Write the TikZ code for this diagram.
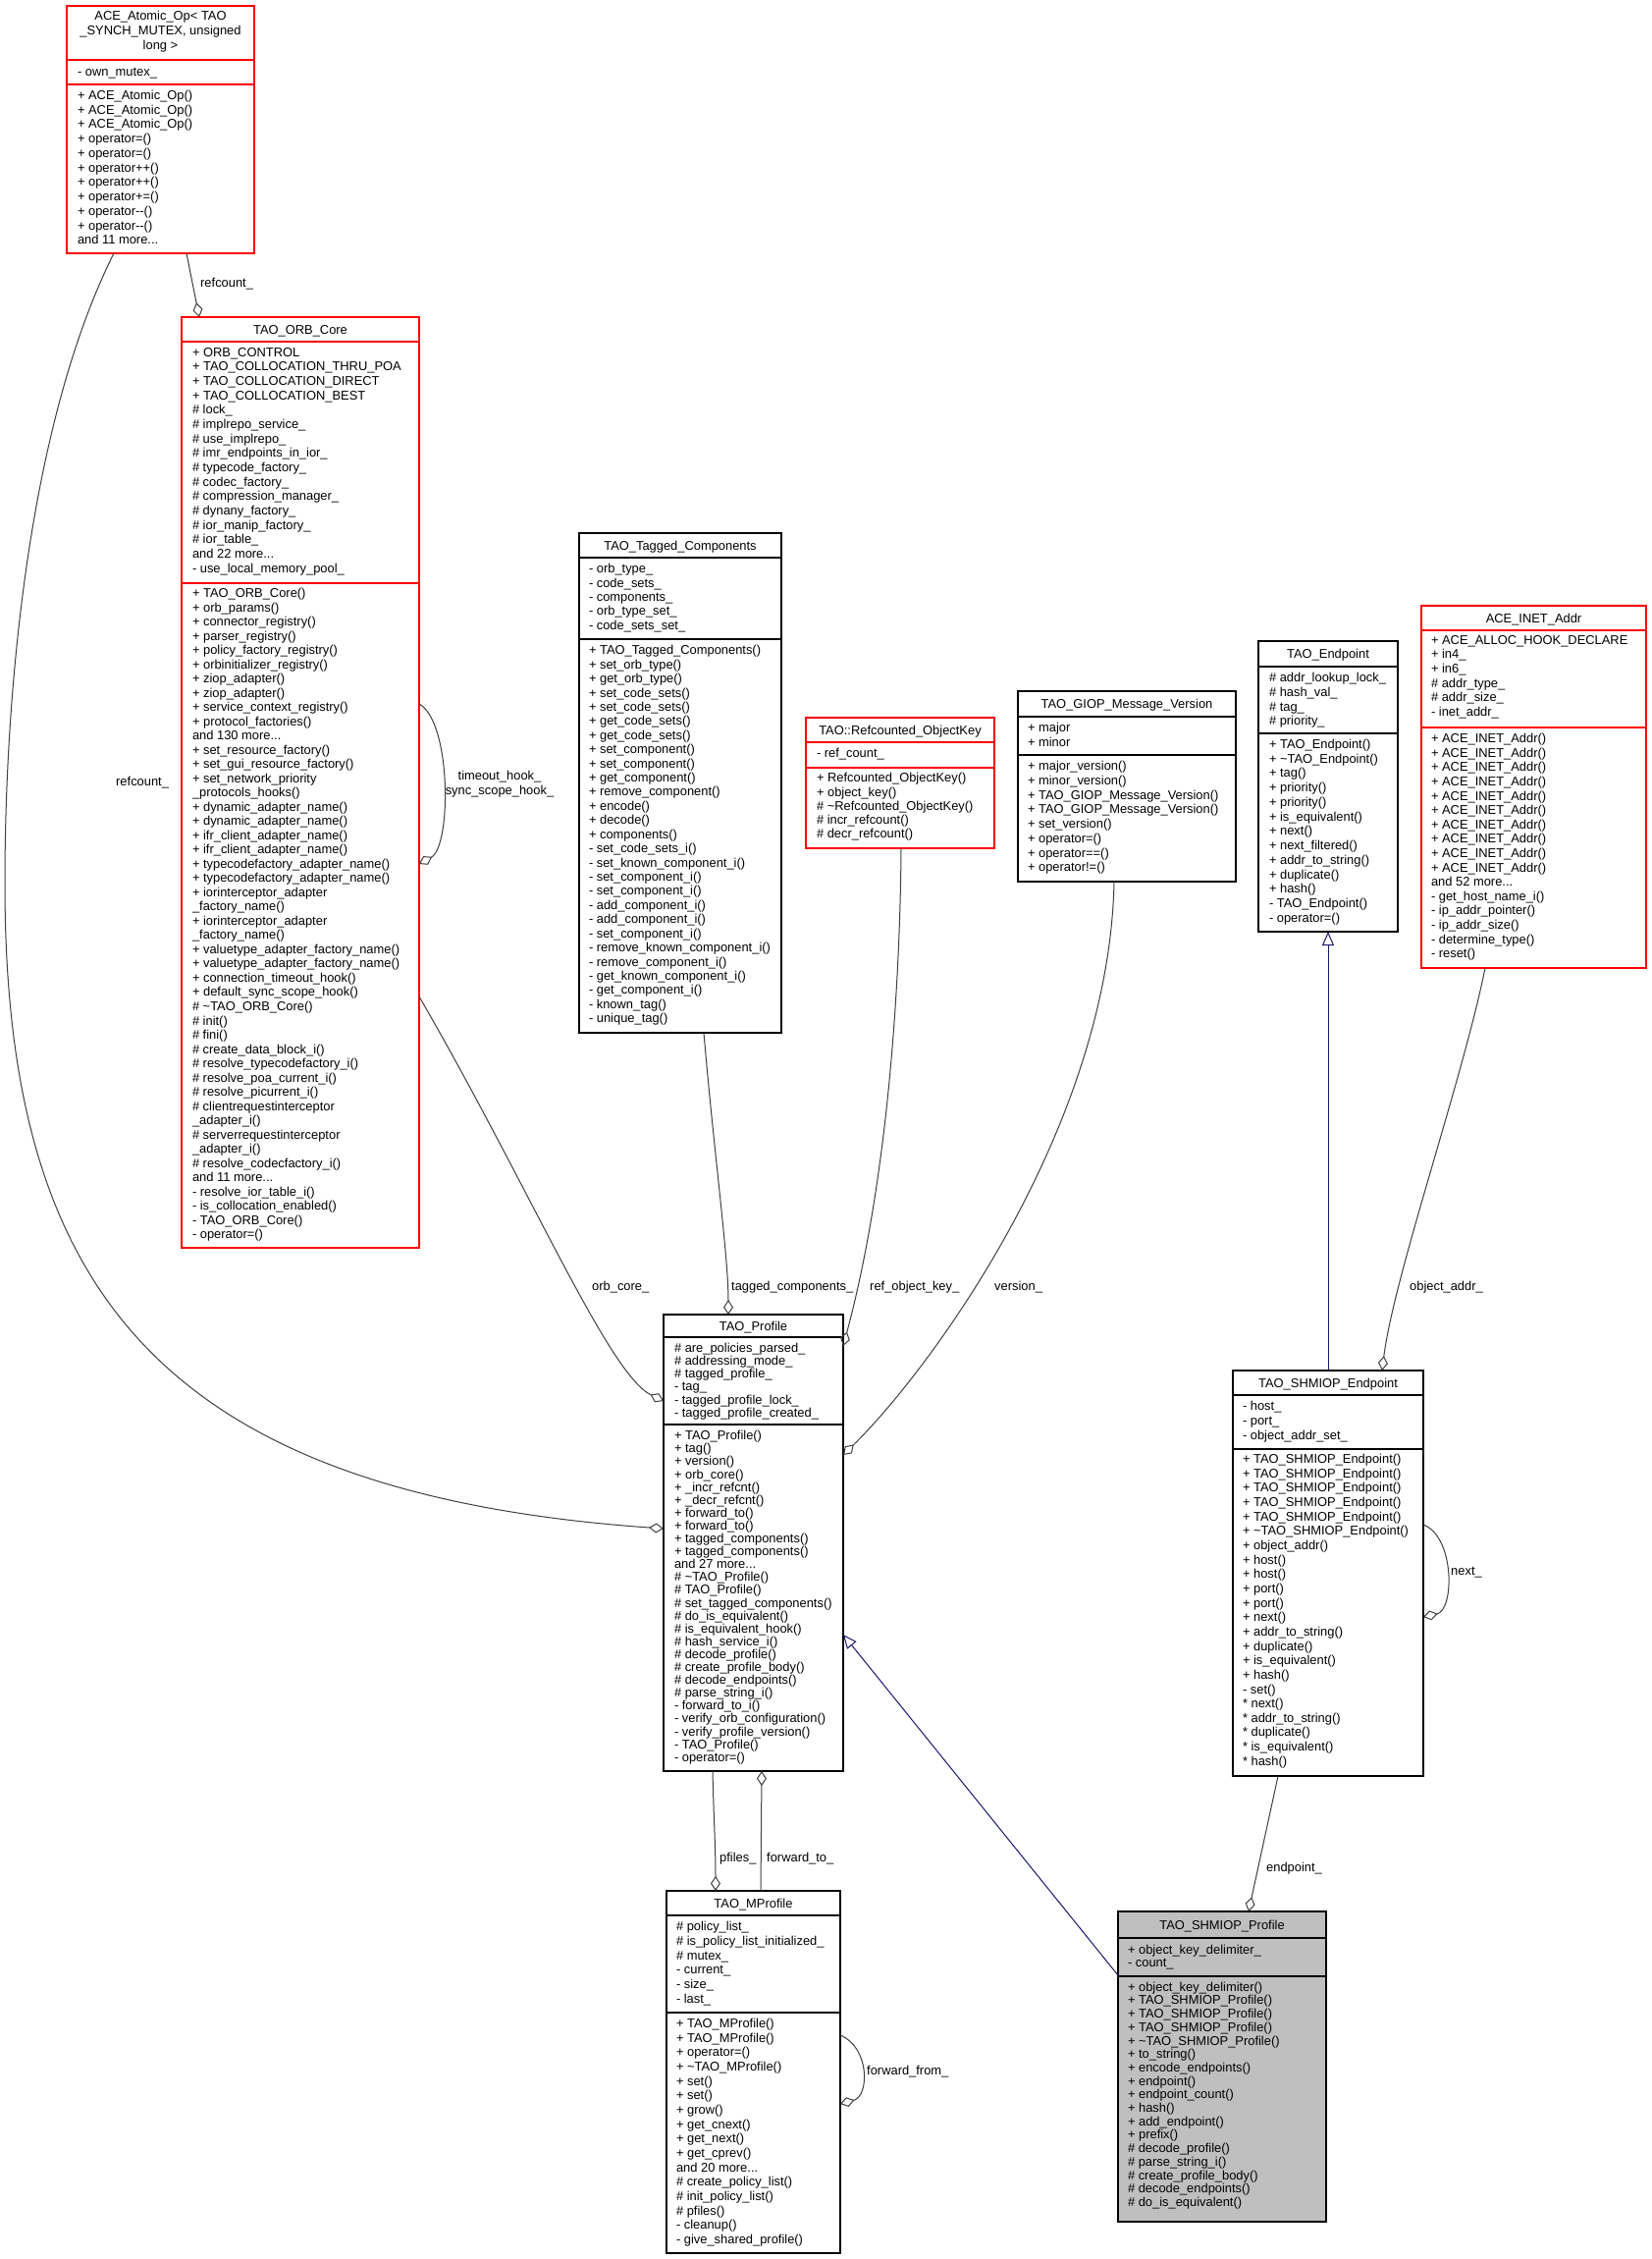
\documentclass[tikz,border=0pt]{standalone}
\usepackage{fontspec}
\setmainfont{Liberation Sans}
\usetikzlibrary{arrows.meta,calc}
\definecolor{edgegray}{HTML}{404040}
\definecolor{inhblue}{HTML}{191970}
\definecolor{boxred}{HTML}{FF0000}
\definecolor{ggray}{HTML}{BFBFBF}
\newcommand\classbox[9]{%
  \node[umlbox,draw=#2,fill=#3,minimum width={#5-#4},minimum height={#9-#6}] (#1) at ({(#4+#5)/2},{(#6+#9)/2}) {};
  \draw[draw=#2,seprule] (#4,#7) -- (#5,#7) (#4,#8) -- (#5,#8);}
\newcommand\members[5]{\node[memb,font={\fontsize{12.9}{#4}\selectfont}] (#1) at (#2,{#3+4.5-0.7*#4}) {#5};}
\newcommand\header[4]{\node[hdr] (#1) at (#2,{#3+4.5}) {#4};}
\begin{document}
\begin{tikzpicture}[x=1pt,y=-1pt,
  umlbox/.style={rectangle,inner sep=0pt,outer sep=0pt,line width=1.5pt},
  seprule/.style={line width=1.5pt},
  memb/.style={anchor=north west,inner sep=0pt,outer sep=0pt,align=left,execute at begin node=\strut},
  hdr/.style={anchor=base,inner sep=0pt,font=\fontsize{12.9}{14.6}\selectfont},
  lbl/.style={anchor=west,inner sep=0pt,font=\fontsize{12.9}{15}\selectfont},
  agg/.style={draw=edgegray,line width=1pt,-{Diamond[open,length=15pt,width=10pt,line width=1pt]}},
  inh/.style={draw=inhblue,line width=1pt,-{Triangle[open,length=14pt,width=12pt,line width=1pt]}}]
\useasboundingbox[fill=white] (0,0) rectangle (1682,2301);

% ---------------- ACE_Atomic_Op
\classbox{atomic}{boxred}{white}{68}{259}{6}{61}{86}{258}
\node[anchor=north,inner sep=0pt,align=center,font={\fontsize{12.9}{15}\selectfont},execute at begin node=\strut] (atomic-h) at (163.5,{17+4.5-10.5}) {ACE\_Atomic\_Op< TAO\\\_SYNCH\_MUTEX, unsigned\\long >};
\members{atomic-a}{79}{73}{14.7}{- own\_mutex\_}
\members{atomic-m}{79}{98}{14.73}{+ ACE\_Atomic\_Op()\\+ ACE\_Atomic\_Op()\\+ ACE\_Atomic\_Op()\\+ operator=()\\+ operator=()\\+ operator++()\\+ operator++()\\+ operator+=()\\+ operator-{}-()\\+ operator-{}-()\\and 11 more...}

% ---------------- TAO_ORB_Core
\classbox{orbcore}{boxred}{white}{185}{427}{323}{348}{594}{1271}
\header{orbcore-h}{306}{335.5}{TAO\_ORB\_Core}
\members{orbcore-a}{196}{360}{14.67}{+ ORB\_CONTROL\\+ TAO\_COLLOCATION\_THRU\_POA\\+ TAO\_COLLOCATION\_DIRECT\\+ TAO\_COLLOCATION\_BEST\\\# lock\_\\\# implrepo\_service\_\\\# use\_implrepo\_\\\# imr\_endpoints\_in\_ior\_\\\# typecode\_factory\_\\\# codec\_factory\_\\\# compression\_manager\_\\\# dynany\_factory\_\\\# ior\_manip\_factory\_\\\# ior\_table\_\\and 22 more...\\- use\_local\_memory\_pool\_}
\members{orbcore-m}{196}{605}{14.51}{+ TAO\_ORB\_Core()\\+ orb\_params()\\+ connector\_registry()\\+ parser\_registry()\\+ policy\_factory\_registry()\\+ orbinitializer\_registry()\\+ ziop\_adapter()\\+ ziop\_adapter()\\+ service\_context\_registry()\\+ protocol\_factories()\\and 130 more...\\+ set\_resource\_factory()\\+ set\_gui\_resource\_factory()\\+ set\_network\_priority\\\_protocols\_hooks()\\+ dynamic\_adapter\_name()\\+ dynamic\_adapter\_name()\\+ ifr\_client\_adapter\_name()\\+ ifr\_client\_adapter\_name()\\+ typecodefactory\_adapter\_name()\\+ typecodefactory\_adapter\_name()\\+ iorinterceptor\_adapter\\\_factory\_name()\\+ iorinterceptor\_adapter\\\_factory\_name()\\+ valuetype\_adapter\_factory\_name()\\+ valuetype\_adapter\_factory\_name()\\+ connection\_timeout\_hook()\\+ default\_sync\_scope\_hook()\\\# \textasciitilde TAO\_ORB\_Core()\\\# init()\\\# fini()\\\# create\_data\_block\_i()\\\# resolve\_typecodefactory\_i()\\\# resolve\_poa\_current\_i()\\\# resolve\_picurrent\_i()\\\# clientrequestinterceptor\\\_adapter\_i()\\\# serverrequestinterceptor\\\_adapter\_i()\\\# resolve\_codecfactory\_i()\\and 11 more...\\- resolve\_ior\_table\_i()\\- is\_collocation\_enabled()\\- TAO\_ORB\_Core()\\- operator=()}

% ---------------- TAO_Tagged_Components
\classbox{tagged}{black}{white}{590}{796}{543}{568}{651}{1052}
\header{tagged-h}{693}{555.5}{TAO\_Tagged\_Components}
\members{tagged-a}{600}{580}{14.33}{- orb\_type\_\\- code\_sets\_\\- components\_\\- orb\_type\_set\_\\- code\_sets\_set\_}
\members{tagged-m}{600}{663}{14.42}{+ TAO\_Tagged\_Components()\\+ set\_orb\_type()\\+ get\_orb\_type()\\+ set\_code\_sets()\\+ set\_code\_sets()\\+ get\_code\_sets()\\+ get\_code\_sets()\\+ set\_component()\\+ set\_component()\\+ get\_component()\\+ remove\_component()\\+ encode()\\+ decode()\\+ components()\\- set\_code\_sets\_i()\\- set\_known\_component\_i()\\- set\_component\_i()\\- set\_component\_i()\\- add\_component\_i()\\- add\_component\_i()\\- set\_component\_i()\\- remove\_known\_component\_i()\\- remove\_component\_i()\\- get\_known\_component\_i()\\- get\_component\_i()\\- known\_tag()\\- unique\_tag()}

% ---------------- TAO::Refcounted_ObjectKey
\classbox{refkey}{boxred}{white}{821}{1013}{731}{756}{782}{864}
\header{refkey-h}{917}{743.5}{TAO::Refcounted\_ObjectKey}
\members{refkey-a}{832}{767}{14.2}{- ref\_count\_}
\members{refkey-m}{832}{793}{14.2}{+ Refcounted\_ObjectKey()\\+ object\_key()\\\# \textasciitilde Refcounted\_ObjectKey()\\\# incr\_refcount()\\\# decr\_refcount()}

% ---------------- TAO_GIOP_Message_Version
\classbox{giop}{black}{white}{1037}{1259}{704}{730}{769}{898}
\header{giop-h}{1148}{717}{TAO\_GIOP\_Message\_Version}
\members{giop-a}{1047}{742}{15}{+ major\\+ minor}
\members{giop-m}{1047}{781}{14.76}{+ major\_version()\\+ minor\_version()\\+ TAO\_GIOP\_Message\_Version()\\+ TAO\_GIOP\_Message\_Version()\\+ set\_version()\\+ operator=()\\+ operator==()\\+ operator!=()}

% ---------------- TAO_Endpoint
\classbox{endpoint}{black}{white}{1282}{1424}{653}{679}{747}{949}
\header{endpoint-h}{1353}{666}{TAO\_Endpoint}
\members{endpoint-a}{1293}{691}{14.8}{\# addr\_lookup\_lock\_\\\# hash\_val\_\\\# tag\_\\\# priority\_}
\members{endpoint-m}{1293}{759}{14.72}{+ TAO\_Endpoint()\\+ \textasciitilde TAO\_Endpoint()\\+ tag()\\+ priority()\\+ priority()\\+ is\_equivalent()\\+ next()\\+ next\_filtered()\\+ addr\_to\_string()\\+ duplicate()\\+ hash()\\- TAO\_Endpoint()\\- operator=()}

% ---------------- ACE_INET_Addr
\classbox{inet}{boxred}{white}{1448}{1677}{617}{642}{741}{986}
\header{inet-h}{1562.5}{629.5}{ACE\_INET\_Addr}
\members{inet-a}{1458}{653}{14.67}{+ ACE\_ALLOC\_HOOK\_DECLARE\\+ in4\_\\+ in6\_\\\# addr\_type\_\\\# addr\_size\_\\- inet\_addr\_}
\members{inet-m}{1458}{753}{14.6}{+ ACE\_INET\_Addr()\\+ ACE\_INET\_Addr()\\+ ACE\_INET\_Addr()\\+ ACE\_INET\_Addr()\\+ ACE\_INET\_Addr()\\+ ACE\_INET\_Addr()\\+ ACE\_INET\_Addr()\\+ ACE\_INET\_Addr()\\+ ACE\_INET\_Addr()\\+ ACE\_INET\_Addr()\\and 52 more...\\- get\_host\_name\_i()\\- ip\_addr\_pointer()\\- ip\_addr\_size()\\- determine\_type()\\- reset()}

% ---------------- TAO_Profile
\classbox{profile}{black}{white}{676}{859}{1339}{1362}{1451}{1804}
\header{profile-h}{767.5}{1350.5}{TAO\_Profile}
\members{profile-a}{687}{1373}{13.1}{\# are\_policies\_parsed\_\\\# addressing\_mode\_\\\# tagged\_profile\_\\- tag\_\\- tagged\_profile\_lock\_\\- tagged\_profile\_created\_}
\members{profile-m}{687}{1462}{13.1}{+ TAO\_Profile()\\+ tag()\\+ version()\\+ orb\_core()\\+ \_incr\_refcnt()\\+ \_decr\_refcnt()\\+ forward\_to()\\+ forward\_to()\\+ tagged\_components()\\+ tagged\_components()\\and 27 more...\\\# \textasciitilde TAO\_Profile()\\\# TAO\_Profile()\\\# set\_tagged\_components()\\\# do\_is\_equivalent()\\\# is\_equivalent\_hook()\\\# hash\_service\_i()\\\# decode\_profile()\\\# create\_profile\_body()\\\# decode\_endpoints()\\\# parse\_string\_i()\\- forward\_to\_i()\\- verify\_orb\_configuration()\\- verify\_profile\_version()\\- TAO\_Profile()\\- operator=()}

% ---------------- TAO_SHMIOP_Endpoint
\classbox{shmep}{black}{white}{1256}{1450}{1396}{1421}{1476}{1809}
\header{shmep-h}{1353}{1408.5}{TAO\_SHMIOP\_Endpoint}
\members{shmep-a}{1266}{1433}{14.8}{- host\_\\- port\_\\- object\_addr\_set\_}
\members{shmep-m}{1266}{1487}{14.65}{+ TAO\_SHMIOP\_Endpoint()\\+ TAO\_SHMIOP\_Endpoint()\\+ TAO\_SHMIOP\_Endpoint()\\+ TAO\_SHMIOP\_Endpoint()\\+ TAO\_SHMIOP\_Endpoint()\\+ \textasciitilde TAO\_SHMIOP\_Endpoint()\\+ object\_addr()\\+ host()\\+ host()\\+ port()\\+ port()\\+ next()\\+ addr\_to\_string()\\+ duplicate()\\+ is\_equivalent()\\+ hash()\\- set()\\* next()\\* addr\_to\_string()\\* duplicate()\\* is\_equivalent()\\* hash()}

% ---------------- TAO_MProfile
\classbox{mprof}{black}{white}{679}{856}{1926}{1951}{2050}{2295}
\header{mprof-h}{767.5}{1938.5}{TAO\_MProfile}
\members{mprof-a}{689}{1963}{14.8}{\# policy\_list\_\\\# is\_policy\_list\_initialized\_\\\# mutex\_\\- current\_\\- size\_\\- last\_}
\members{mprof-m}{689}{2062}{14.67}{+ TAO\_MProfile()\\+ TAO\_MProfile()\\+ operator=()\\+ \textasciitilde TAO\_MProfile()\\+ set()\\+ set()\\+ grow()\\+ get\_cnext()\\+ get\_next()\\+ get\_cprev()\\and 20 more...\\\# create\_policy\_list()\\\# init\_policy\_list()\\\# pfiles()\\- cleanup()\\- give\_shared\_profile()}

% ---------------- TAO_SHMIOP_Profile
\classbox{shprof}{black}{ggray}{1139}{1351}{1947}{1974}{2013}{2263}
\header{shprof-h}{1245}{1960.5}{TAO\_SHMIOP\_Profile}
\members{shprof-a}{1149}{1986}{13.3}{+ object\_key\_delimiter\_\\- count\_}
\members{shprof-m}{1149}{2024}{13.7}{+ object\_key\_delimiter()\\+ TAO\_SHMIOP\_Profile()\\+ TAO\_SHMIOP\_Profile()\\+ TAO\_SHMIOP\_Profile()\\+ \textasciitilde TAO\_SHMIOP\_Profile()\\+ to\_string()\\+ encode\_endpoints()\\+ endpoint()\\+ endpoint\_count()\\+ hash()\\+ add\_endpoint()\\+ prefix()\\\# decode\_profile()\\\# parse\_string\_i()\\\# create\_profile\_body()\\\# decode\_endpoints()\\\# do\_is\_equivalent()}

% ---------------- connectors
\draw[agg] (atomic.south -| 190,0) -- (orbcore.north -| 203,0);
\draw[agg] (atomic.south -| 116,0) .. controls (30,430) and (5,700) .. (5,900)
  .. controls (5,1300) and (150,1520) .. (profile.west |- 0,1557);
\draw[agg] (orbcore.east |- 0,717) .. controls (460,735) and (460,862) .. (orbcore.east |- 0,880);
\draw[agg] (orbcore.east |- 0,1015) .. controls (540,1210) and (620,1400) .. (profile.west |- 0,1427);
\draw[agg] (tagged.south -| 717,0) .. controls (728,1180) and (742,1280) .. (profile.north -| 742,0);
\draw[agg] (refkey.south -| 918,0) .. controls (917,1000) and (905,1200) .. (profile.east |- 0,1371);
\draw[agg] (giop.south -| 1135,0) .. controls (1130,1150) and (945,1398) .. (profile.east |- 0,1482);
\draw[inh] (shmep.north) -- (endpoint.south);
\draw[agg] (inet.south -| 1513,0) .. controls (1490,1100) and (1420,1300) .. (shmep.north -| 1408,0);
\draw[inh] (shprof.west |- 0,2012) -- (profile.east |- 0,1665);
\draw[agg] (shmep.south -| 1302,0) -- (shprof.north -| 1272,0);
\draw[agg] (shmep.east |- 0,1553) .. controls (1482,1565) and (1482,1640) .. (shmep.east |- 0,1647);
\draw[agg] (mprof.east |- 0,2073) .. controls (886,2085) and (886,2135) .. (mprof.east |- 0,2143);
\draw[agg] (profile.south -| 726,0) .. controls (727,1850) and (729,1880) .. (mprof.north -| 729,0);
\draw[agg] (mprof.north -| 775,0) -- (profile.south -| 776,0);

% ---------------- labels
\node[lbl] (l-refcount1) at (204,289) {refcount\_};
\node[lbl] (l-refcount2) at (118,797) {refcount\_};
\node[inner sep=0pt,align=center,font={\fontsize{12.9}{15}\selectfont}] (l-timeout) at (509,799) {timeout\_hook\_\\sync\_scope\_hook\_};
\node[lbl] (l-orbcore) at (603,1311) {orb\_core\_};
\node[lbl] (l-tagged) at (745,1311) {tagged\_components\_};
\node[lbl] (l-refkey) at (886,1311) {ref\_object\_key\_};
\node[lbl] (l-version) at (1013,1311) {version\_};
\node[lbl] (l-objaddr) at (1436,1311) {object\_addr\_};
\node[lbl] (l-next) at (1478,1602) {next\_};
\node[lbl] (l-endpoint) at (1290,1903) {endpoint\_};
\node[lbl] (l-pfiles) at (733,1893) {pfiles\_};
\node[lbl] (l-fwdto) at (781,1893) {forward\_to\_};
\node[lbl] (l-fwdfrom) at (883,2110) {forward\_from\_};
\end{tikzpicture}
\end{document}
